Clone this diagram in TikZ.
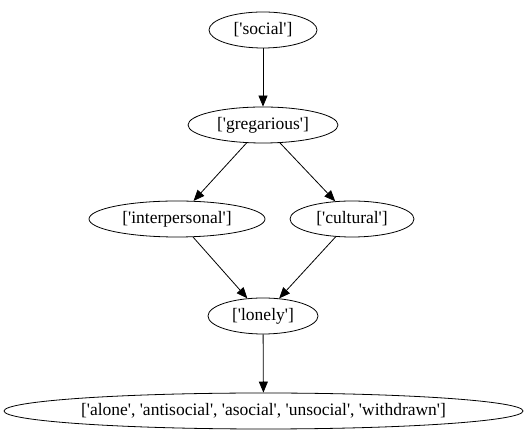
\documentclass[tikz,border=0pt]{standalone}
\usepackage{fontspec}
\setmainfont{Liberation Serif}[Ligatures=TeXOff]
\usetikzlibrary{arrows.meta,shapes.geometric}

\begin{document}
\begin{tikzpicture}
[x=1pt,y=1pt,
word/.style={ellipse,draw=black,thick,inner sep=0pt,minimum height=36pt,font=\fontsize{17.5}{19}\selectfont},
link/.style={draw=black,thick,-{Triangle[length=11pt,width=9pt]}}]
\useasboundingbox (0,0) rectangle (529,443);
\node (social) at (263,413) [word,minimum width=108pt] {['social']};
\node (gregarious) at (263,318) [word,minimum width=150pt] {['gregarious']};
\node (interpersonal) at (177,224) [word,minimum width=176pt] {['interpersonal']};
\node (cultural) at (352,224) [word,minimum width=124pt] {['cultural']};
\node (lonely) at (263,127) [word,minimum width=110pt] {['lonely']};
\node (alone) at (263.5,32) [word,minimum width=519pt] {['alone', 'antisocial', 'asocial', 'unsocial', 'withdrawn']};
\draw [link] (social) -- (gregarious);
\draw [link] (gregarious) -- (interpersonal);
\draw [link] (gregarious) -- (cultural);
\draw [link] (interpersonal) -- (lonely);
\draw [link] (cultural) -- (lonely);
\draw [link] (lonely) -- (alone);
\end{tikzpicture}
\end{document}
